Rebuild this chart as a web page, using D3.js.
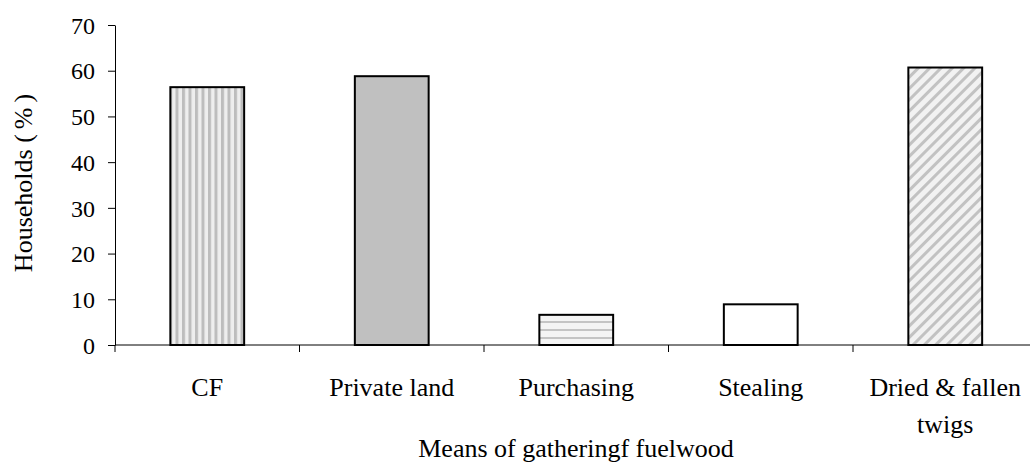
<!DOCTYPE html>
<html><head><meta charset="utf-8">
<script src="https://cdn.jsdelivr.net/npm/d3@7"></script>
<style>body{margin:0;background:#fff}svg{display:block}text{font-family:"Liberation Serif","Times New Roman",serif;fill:#000}</style>
</head><body>
<script>
const categories = ["CF", "Private land", "Purchasing", "Stealing", "Dried & fallen twigs"];
const values = [56.4, 58.8, 6.6, 8.9, 60.7];
const yTicks = [0, 10, 20, 30, 40, 50, 60, 70];
const fills = ["url(#vstripe)", "#c0c0c0", "url(#hstripe)", "#ffffff", "url(#dstripe)"];

const W = 1030, H = 462;
const svg = d3.select("body").append("svg").attr("width", W).attr("height", H);
const defs = svg.append("defs");
const vp = defs.append("pattern").attr("id","vstripe").attr("patternUnits","userSpaceOnUse").attr("width",6.5).attr("height",10);
vp.append("rect").attr("width",6.5).attr("height",10).attr("fill","#eeeeee");
vp.append("rect").attr("x",0).attr("width",3).attr("height",10).attr("fill","#bdbdbd");
const hp = defs.append("pattern").attr("id","hstripe").attr("patternUnits","userSpaceOnUse").attr("width",10).attr("height",8).attr("y",1);
hp.append("rect").attr("width",10).attr("height",8).attr("fill","#f4f4f4");
hp.append("rect").attr("y",0).attr("width",10).attr("height",2).attr("fill","#c4c4c4");
const dp = defs.append("pattern").attr("id","dstripe").attr("patternUnits","userSpaceOnUse").attr("width",8).attr("height",8).attr("patternTransform","rotate(45)");
dp.append("rect").attr("width",8).attr("height",8).attr("fill","#f2f2f2");
dp.append("rect").attr("x",0).attr("width",3).attr("height",8).attr("fill","#c2c2c2");

const x0 = 115, yBottom = 345, yTop = 25, bandW = 184.5;
const x = d3.scaleBand().domain(categories).range([x0, x0 + 5*bandW]).paddingInner(0.6).paddingOuter(0.3);
const y = d3.scaleLinear().domain([0, 70]).range([yBottom, yTop]);

// bars
svg.selectAll("rect.bar").data(categories).enter().append("rect")
  .attr("class","bar")
  .attr("x", d => x(d)).attr("width", x.bandwidth())
  .attr("y", (d,i) => y(values[i])).attr("height", (d,i) => yBottom - y(values[i]))
  .attr("fill", (d,i) => fills[i]).attr("stroke","#000").attr("stroke-width",2);

// y axis
const ya = svg.append("g").attr("transform",`translate(${x0},0)`)
  .call(d3.axisLeft(y).tickValues(yTicks).tickSize(7).tickSizeOuter(0));
ya.select(".domain").attr("stroke","#000");
ya.selectAll(".tick line").attr("stroke","#000");
ya.selectAll(".tick text").attr("font-size",24).attr("x",-20).attr("dy","0.34em");

// x axis line and ticks
svg.append("line").attr("x1",x0).attr("x2",W).attr("y1",yBottom).attr("y2",yBottom).attr("stroke","#000");
const bounds = d3.range(0, 5).map(i => x0 + i*bandW);
svg.selectAll("line.xt").data(bounds).enter().append("line")
  .attr("x1",d=>d).attr("x2",d=>d).attr("y1",yBottom).attr("y2",yBottom+7).attr("stroke","#000");

// x labels
const lab = svg.append("g");
categories.forEach((c,i) => {
  const cx = x(c) + x.bandwidth()/2;
  if (c === "Dried & fallen twigs") {
    const t = lab.append("text").attr("x", cx).attr("y", 396).attr("text-anchor","middle").attr("font-size",26);
    t.append("tspan").attr("x",cx).text("Dried & fallen");
    t.append("tspan").attr("x",cx).attr("dy",37).text("twigs");
  } else {
    lab.append("text").attr("x", cx).attr("y", 396).attr("text-anchor","middle").attr("font-size",26).text(c);
  }
});

svg.append("text").attr("x",576).attr("y",457).attr("text-anchor","middle").attr("font-size",26).text("Means of gatheringf fuelwood");
const yt = svg.append("text").attr("transform","translate(32,183) rotate(-90)").attr("text-anchor","middle").attr("font-size",26);
yt.append("tspan").text("Households (");
yt.append("tspan").attr("dx",5).text("%");
yt.append("tspan").attr("dx",5).text(")");
</script>
</body></html>
